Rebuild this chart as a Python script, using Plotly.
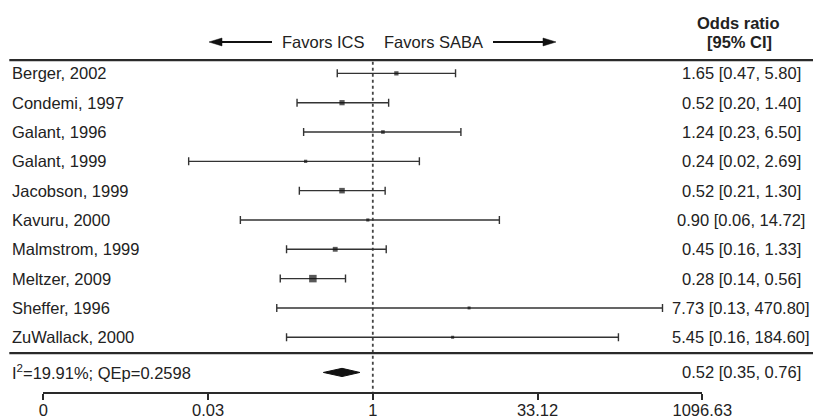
import numpy as np
import plotly.graph_objects as go

# ---------------- data ----------------
studies = ["Berger, 2002", "Condemi, 1997", "Galant, 1996", "Galant, 1999",
           "Jacobson, 1999", "Kavuru, 2000", "Malmstrom, 1999", "Meltzer, 2009",
           "Sheffer, 1996", "ZuWallack, 2000"]
odds = [1.65, 0.52, 1.24, 0.24, 0.52, 0.90, 0.45, 0.28, 7.73, 5.45]
ci_low = [0.47, 0.20, 0.23, 0.02, 0.21, 0.06, 0.16, 0.14, 0.13, 0.16]
ci_high = [5.80, 1.40, 6.50, 2.69, 1.30, 14.72, 1.33, 0.56, 470.80, 184.60]
ci_low_txt = ["0.47", "0.20", "0.23", "0.02", "0.21", "0.06", "0.16", "0.14", "0.13", "0.16"]
ci_high_txt = ["5.80", "1.40", "6.50", "2.69", "1.30", "14.72", "1.33", "0.56", "470.80", "184.60"]
odds_txt = ["1.65", "0.52", "1.24", "0.24", "0.52", "0.90", "0.45", "0.28", "7.73", "5.45"]

summary_or = 0.52
summary_low = 0.35
summary_high = 0.76
summary_label = "I<sup>2</sup>=19.91%; QEp=0.2598"
summary_txt = ["0.52", "0.35", "0.76"]

tick_ln = [-7, -3.5, 0, 3.5, 7]
tick_labels = ["0", "0.03", "1", "33.12", "1096.63"]

left_label = "Favors ICS"
right_label = "Favors SABA"
col_title_1 = "<b>Odds ratio</b>"
col_title_2 = "<b>[95% CI]</b>"

# ---------------- layout constants ----------------
W, H = 813, 419
FONT = "Arial, 'Liberation Sans', sans-serif"
TXT = "#222222"
FS = 16.5
k = len(studies)
rows = list(range(k, 0, -1))
row_sum = -0.2
y_top_line = k + 0.45
y_sep = 0.46
y_header = k + 1.07
y_title = k + 1.72
y_min, y_max = -0.867, k + 2.502

# marker sizes from inverse-variance weights implied by the CIs
se = (np.log(ci_high) - np.log(ci_low)) / 3.92
w = 1 / se**2
sizes = 3 + 4.5 * (w - w.min()) / (w.max() - w.min())

fig = go.Figure()

# reference line at OR = 1
fig.add_trace(go.Scatter(x=[1, 1], y=[y_top_line - 0.05, y_min], mode="lines",
                         line=dict(color="#444", width=1.8, dash="dot"),
                         hoverinfo="skip", showlegend=False))

# study estimates with CIs
fig.add_trace(go.Scatter(
    x=odds, y=rows, mode="markers",
    marker=dict(symbol="square", size=sizes, color="#111111", line=dict(width=0)),
    error_x=dict(type="data", symmetric=False,
                 array=[h - o for h, o in zip(ci_high, odds)],
                 arrayminus=[o - l for o, l in zip(odds, ci_low)],
                 color="#333", thickness=1.4, width=4),
    showlegend=False))

# summary diamond
dh = 0.14
fig.add_trace(go.Scatter(
    x=[summary_low, summary_or, summary_high, summary_or, summary_low],
    y=[row_sum, row_sum + dh, row_sum, row_sum - dh, row_sum],
    mode="lines", fill="toself", fillcolor="#111111",
    line=dict(color="#111111", width=1), showlegend=False))

ann = []
for name, r in zip(studies, rows):
    ann.append(dict(x=9.5 / W, y=r, xref="paper", yref="y", text=name,
                    xanchor="left", yanchor="middle", showarrow=False))

def fmt(o, lo, hi):
    pad = "\u00a0" * (6 - len(hi))
    return f"{o} [{lo}, {hi}]{pad}"

for o, lo, hi, r in zip(odds_txt, ci_low_txt, ci_high_txt, rows):
    ann.append(dict(x=1, y=r, xref="paper", yref="y", text=fmt(o, lo, hi),
                    xanchor="right", yanchor="middle", xshift=-1.5, showarrow=False))

ann.append(dict(x=9.5 / W, y=row_sum, xref="paper", yref="y", text=summary_label,
                xanchor="left", yanchor="middle", showarrow=False))
ann.append(dict(x=1, y=row_sum, xref="paper", yref="y", text=fmt(*summary_txt),
                xanchor="right", yanchor="middle", xshift=-1.5, showarrow=False))

# header
ann.append(dict(x=0, y=y_header, xref="x", yref="y", text=left_label,
                xanchor="right", yanchor="middle", xshift=-6, showarrow=False))
ann.append(dict(x=0, y=y_header, xref="x", yref="y", text=right_label,
                xanchor="left", yanchor="middle", xshift=9, showarrow=False))
ann.append(dict(x=738.5 / W, y=y_title, xref="paper", yref="y",
                text=col_title_1, xanchor="center", yanchor="middle", showarrow=False))
ann.append(dict(x=739.5 / W, y=y_header, xref="paper", yref="y",
                text=col_title_2, xanchor="center", yanchor="middle", showarrow=False))

shapes = [
    dict(type="line", xref="paper", yref="y", x0=9.3 / W, x1=1, y0=y_top_line, y1=y_top_line,
         line=dict(color="#2a2a2a", width=2.2)),
    dict(type="line", xref="paper", yref="y", x0=9.3 / W, x1=1, y0=y_sep, y1=y_sep,
         line=dict(color="#2a2a2a", width=2.2)),
]

# header arrows (decorations): shaft + filled head
ah = 0.135  # half-height of head in row units
for tip, base, tail in [(209, 222, 272), (556, 543, 493)]:
    shapes.append(dict(type="line", xref="paper", yref="y", x0=tail / W, x1=base / W,
                       y0=y_header, y1=y_header, line=dict(color="#111111", width=2)))
    shapes.append(dict(type="path", xref="paper", yref="y",
                       path=f"M {tip / W} {y_header} L {base / W} {y_header + ah} "
                            f"L {base / W} {y_header - ah} Z",
                       fillcolor="#111111", line=dict(color="#111111", width=0.5)))

x0px, x1px = 43.3, 702.3
fig.update_layout(
    width=W, height=H, autosize=False,
    margin=dict(l=0, r=0, t=0, b=27.3, autoexpand=False),
    paper_bgcolor="white", plot_bgcolor="white",
    font=dict(family=FONT, size=FS, color=TXT),
    annotations=ann, shapes=shapes, showlegend=False,
    xaxis=dict(type="log", domain=[x0px / W, x1px / W], automargin=False,
               range=[tick_ln[0] / np.log(10), tick_ln[-1] / np.log(10)],
               tickvals=list(np.exp(tick_ln)), ticktext=tick_labels,
               showline=True, linecolor="#2a2a2a", linewidth=2,
               ticks="outside", ticklen=6, tickwidth=2, tickcolor="#2a2a2a",
               ticklabelstandoff=-4,
               showgrid=False, zeroline=False,
               tickfont=dict(family=FONT, size=FS, color=TXT)),
    yaxis=dict(range=[y_min, y_max], visible=False, showgrid=False, zeroline=False,
               automargin=False),
)

fig.write_html("out.html")
